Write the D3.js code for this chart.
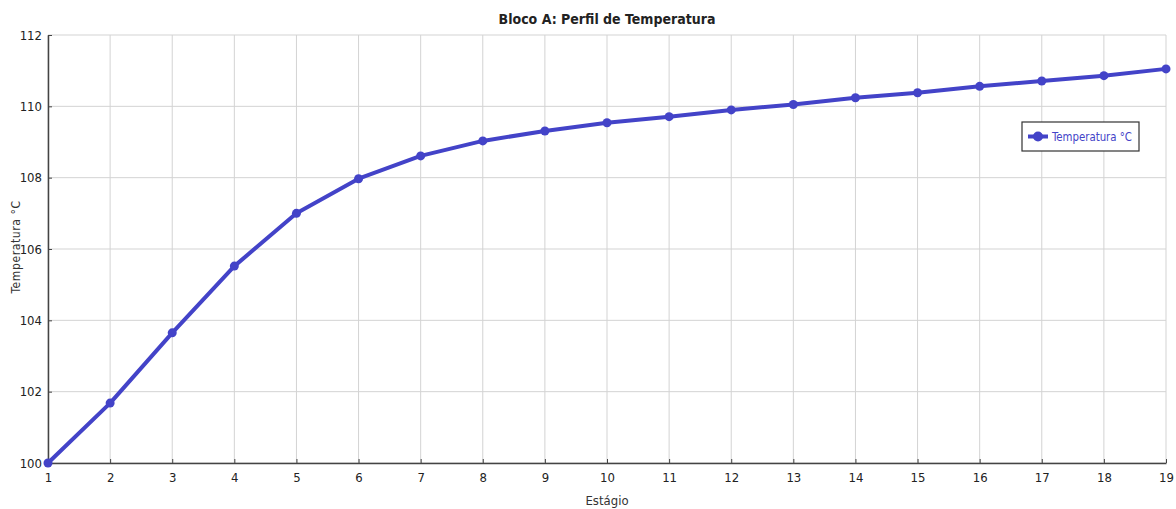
<!DOCTYPE html>
<html>
<head>
<meta charset="utf-8">
<script src="https://cdn.jsdelivr.net/npm/d3@7"></script>
<style>
	body { margin: 0; background: #fff; }
	svg text { font-family: "Liberation Sans Narrow", "DejaVu Sans Condensed", sans-serif; fill: #222; }
	.grid line { stroke: #d3d3d3; stroke-width: 1; }
	.axis path, .axis line { stroke: #444; }
	.axis text { font-size: 13px; }
</style>
</head>
<body>
<svg id="chart"></svg>
<script>
const stages = [1, 2, 3, 4, 5, 6, 7, 8, 9, 10, 11, 12, 13, 14, 15, 16, 17, 18, 19];
const temps = [100.0, 101.68, 103.65, 105.52, 107.0, 107.97, 108.61, 109.03, 109.31, 109.54,
			   109.71, 109.9, 110.05, 110.24, 110.38, 110.56, 110.71, 110.86, 111.05];
const yTicks = [100, 102, 104, 106, 108, 110, 112];
const seriesName = 'Temperatura °C';

const data = stages.map((s, i) => ({stage: s, temp: temps[i]}));

// dimensions
const margin = {top: 35, bottom: 46, left: 48, right: 10};
const width = 1176 - margin.left - margin.right;
const height = 509 - margin.top - margin.bottom;
const lineColor = '#4343c8';

const scaleX = d3.scaleLinear().domain([1, 19]).range([0, width]);
const scaleY = d3.scaleLinear().domain([100, 112]).range([height, 0]);

const $svg = d3.select('#chart')
	.attr('width', 1176)
	.attr('height', 509);

const $vis = $svg.append('g')
	.attr('transform', 'translate(' + margin.left + ',' + margin.top + ')');

// grid
$vis.append('g')
	.attr('class', 'grid')
	.selectAll('line')
	.data(stages)
	.enter()
	.append('line')
	.attr('x1', d => scaleX(d)).attr('x2', d => scaleX(d))
	.attr('y1', 0).attr('y2', height);

$vis.append('g')
	.attr('class', 'grid')
	.selectAll('line')
	.data(yTicks)
	.enter()
	.append('line')
	.attr('x1', 0).attr('x2', width)
	.attr('y1', d => scaleY(d)).attr('y2', d => scaleY(d));

// axes
$vis.append('g')
	.attr('class', 'axis axis--x')
	.attr('transform', 'translate(0,' + height + ')')
	.call(d3.axisBottom(scaleX).tickValues(stages).tickFormat(d3.format('d')).tickSize(-4).tickSizeOuter(0).tickPadding(10));

$vis.append('g')
	.attr('class', 'axis axis--y')
	.call(d3.axisLeft(scaleY).tickValues(yTicks).tickSize(-4).tickSizeOuter(0).tickPadding(6));

$vis.selectAll('.axis path').attr('stroke-width', 1.5);

// line + points
const line = d3.line().x(d => scaleX(d.stage)).y(d => scaleY(d.temp));

$vis.append('path')
	.datum(data)
	.attr('fill', 'none')
	.attr('stroke', lineColor)
	.attr('stroke-width', 4)
	.attr('stroke-linejoin', 'round')
	.attr('d', line);

$vis.selectAll('.dot')
	.data(data)
	.enter()
	.append('circle')
	.attr('class', 'dot')
	.attr('cx', d => scaleX(d.stage))
	.attr('cy', d => scaleY(d.temp))
	.attr('r', 4.5)
	.attr('fill', lineColor);

// title and axis labels
$svg.append('text')
	.attr('x', margin.left + width / 2)
	.attr('y', 24)
	.attr('text-anchor', 'middle')
	.style('font-size', '14px')
	.style('font-weight', 'bold')
	.text('Bloco A: Perfil de Temperatura');

$svg.append('text')
	.attr('x', margin.left + width / 2)
	.attr('y', 505)
	.attr('text-anchor', 'middle')
	.style('font-size', '13px')
	.style('fill', '#333')
	.text('Estágio');

$svg.append('text')
	.attr('transform', 'translate(20,' + (margin.top + height / 2 - 2) + ') rotate(-90)')
	.attr('text-anchor', 'middle')
	.style('font-size', '12px')
	.style('letter-spacing', '0.6px')
	.style('fill', '#333')
	.text('Temperatura °C');

// legend
const $legend = $svg.append('g').attr('transform', 'translate(1022,122)');
$legend.append('rect')
	.attr('width', 117).attr('height', 29)
	.attr('fill', '#fff')
	.attr('stroke', '#333')
	.attr('stroke-width', 1.2);
$legend.append('line')
	.attr('x1', 6).attr('x2', 26)
	.attr('y1', 14.5).attr('y2', 14.5)
	.attr('stroke', lineColor).attr('stroke-width', 4);
$legend.append('circle')
	.attr('cx', 16).attr('cy', 14.5).attr('r', 5)
	.attr('fill', lineColor);
$legend.append('text')
	.attr('x', 30).attr('y', 19)
	.style('font-size', '12px')
	.style('fill', lineColor)
	.attr('textLength', 80)
	.attr('lengthAdjust', 'spacingAndGlyphs')
	.text(seriesName);
</script>
</body>
</html>
